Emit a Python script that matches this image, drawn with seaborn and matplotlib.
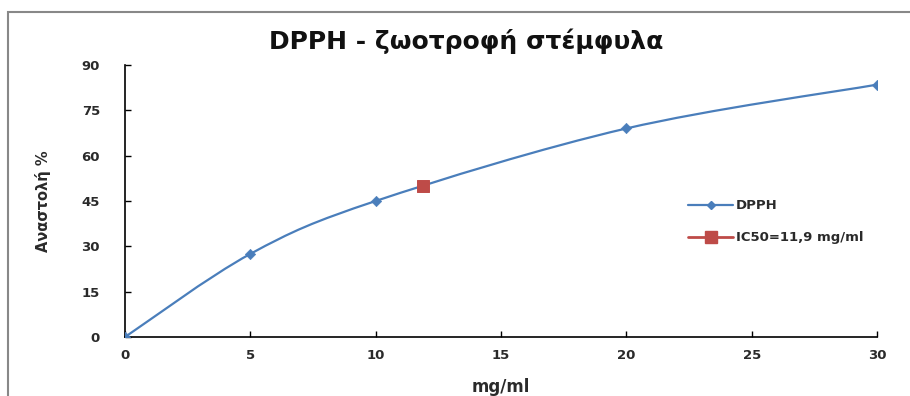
import numpy as np
import pandas as pd
import seaborn as sns
import matplotlib
matplotlib.use("Agg")
import matplotlib.pyplot as plt
from matplotlib.path import Path
from matplotlib.patches import PathPatch, Rectangle
from matplotlib.lines import Line2D

# ---- data ----
conc = [0, 5, 10, 20, 30]
inhibition = [0, 27.5, 45, 69, 83.5]
ic50_x = [11.9]
ic50_y = [50]
xticks = [0, 5, 10, 15, 20, 25, 30]
yticks = [0, 15, 30, 45, 60, 75, 90]

title = "DPPH - ζωοτροφή στέμφυλα"
xlabel = "mg/ml"
ylabel = "Αναστολή %"
leg_dpph = "DPPH"
leg_ic50 = "IC50=11,9 mg/ml"

sns.set_theme(style="white")
plt.rcParams['font.family'] = ['DejaVu Sans']

blue = "#4a7ebb"
red = "#be4b48"
txt = "#2a2a2a"

fig = plt.figure(figsize=(9.1, 3.96), dpi=100)
ax = fig.add_axes([0.1374, 0.149, 0.8264, 0.6869])

# smooth line (Excel-style bezier through data points)
pts = np.column_stack([conc, inhibition]).astype(float)
n = len(pts)
verts = [tuple(pts[0])]
codes = [Path.MOVETO]
for i in range(n - 1):
    p0 = pts[i - 1] if i > 0 else pts[i]
    p1 = pts[i]
    p2 = pts[i + 1]
    p3 = pts[i + 2] if i + 2 < n else pts[i + 1]
    c1 = p1 + (p2 - p0) / 6.0
    c2 = p2 - (p3 - p1) / 6.0
    verts += [tuple(c1), tuple(c2), tuple(p2)]
    codes += [Path.CURVE4] * 3
ax.add_patch(PathPatch(Path(verts, codes), facecolor="none", edgecolor=blue, lw=1.6, zorder=2))

df = pd.DataFrame({"conc": conc, "inh": inhibition})
sns.scatterplot(data=df, x="conc", y="inh", marker="D", s=28, color=blue,
                edgecolor=blue, ax=ax, zorder=3)
dfi = pd.DataFrame({"x": ic50_x, "y": ic50_y})
sns.scatterplot(data=dfi, x="x", y="y", marker="s", s=75, color=red,
                edgecolor=red, ax=ax, zorder=4)

ax.set_xlim(0, 30)
ax.set_ylim(0, 90)
ax.set_xticks(xticks)
ax.set_yticks(yticks)
ax.set_xticklabels([str(t) for t in xticks], fontsize=9.5, fontweight="bold", color=txt)
ax.set_yticklabels([str(t) for t in yticks], fontsize=9.5, fontweight="bold", color=txt)
ax.tick_params(axis="x", direction="in", length=4, width=1, color="black", pad=9, bottom=True)
ax.tick_params(axis="y", direction="in", length=4, width=1, color="black", pad=18, left=True)
for s in ["top", "right"]:
    ax.spines[s].set_visible(False)
for s in ["left", "bottom"]:
    ax.spines[s].set_color("black")
    ax.spines[s].set_linewidth(1.2)
ax.set_xlabel(xlabel, fontsize=12, fontweight="bold", color=txt, labelpad=11)
ax.set_ylabel(ylabel, fontsize=10.5, fontweight="bold", color=txt, labelpad=22)
fig.text(0.512, 0.897, title, ha="center", va="center", fontsize=18, fontweight="bold", color="#111111")

handles = [
    Line2D([0], [0], color=blue, lw=1.6, marker="D", markersize=4.5),
    Line2D([0], [0], color=red, lw=2, marker="s", markersize=8),
]
leg = ax.legend(handles, [leg_dpph, leg_ic50], loc="upper left", bbox_to_anchor=(0.733, 0.55),
                frameon=False, fontsize=9.5, handlelength=3.4, handletextpad=0.2, labelspacing=1.45)
for t in leg.get_texts():
    t.set_fontweight("bold")
    t.set_color(txt)

# outer chart frame
fig.patches.append(Rectangle((8 / 910, -0.05), 1.05, 1.05 - 12 / 396, transform=fig.transFigure,
                             fill=False, edgecolor="#888888", lw=1.5))

fig.savefig("out.png", dpi=100)
